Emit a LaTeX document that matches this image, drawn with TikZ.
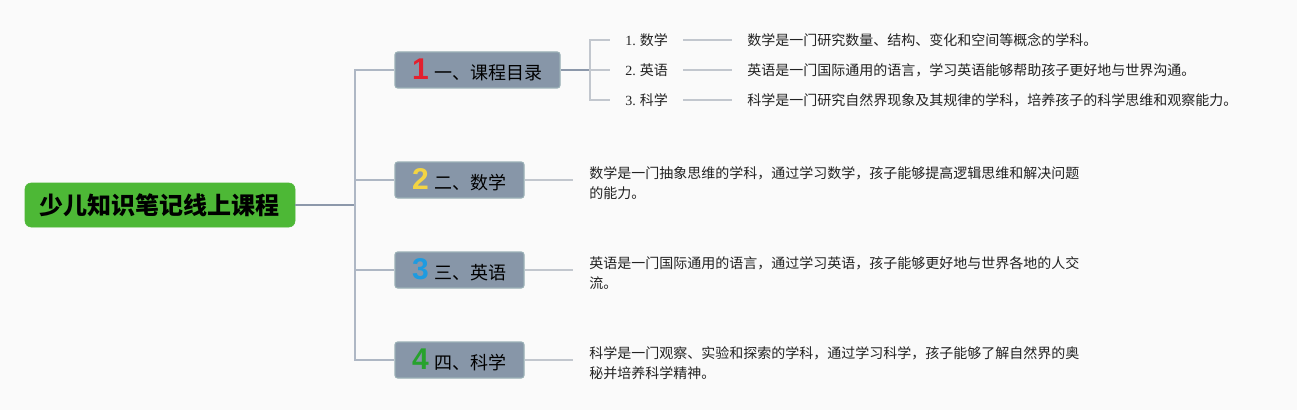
\documentclass[tikz,border=0pt]{standalone}
\usepackage{fontspec}
\setmainfont{Noto Sans CJK SC}
\newfontfamily\serifdig{Liberation Serif}
\newfontfamily\digfont{Liberation Sans}
\definecolor{bgc}{HTML}{FAFAFA}
\definecolor{rootg}{HTML}{4DB836}
\definecolor{boxf}{HTML}{8796A8}
\definecolor{boxd}{HTML}{9AB0B6}
\definecolor{darkl}{HTML}{8C98AA}
\definecolor{lightl}{HTML}{C2C7CE}
\definecolor{trunkl}{HTML}{AEB7C4}
\definecolor{txt}{HTML}{222222}
\definecolor{d1}{HTML}{E3202E}
\definecolor{d2}{HTML}{F3D443}
\definecolor{d3}{HTML}{1E9BE0}
\definecolor{d4}{HTML}{27A22D}
\tikzset{
  rootbox/.style={draw=rootg, fill=rootg, rounded corners=4.5pt, minimum width=202.5pt, minimum height=33pt, inner sep=0pt, font=\fontsize{18pt}{20pt}\selectfont\bfseries, text=black},
  topicbox/.style={draw=boxd, line width=0.8pt, fill=boxf, rounded corners=2pt, minimum height=27pt, inner sep=0pt, font=\fontsize{13.5pt}{15pt}\selectfont, text=black},
  sublabel/.style={anchor=west, inner xsep=11.25pt, inner ysep=0pt, font=\fontsize{10.5pt}{15pt}\selectfont, text=txt},
  desc/.style={anchor=west, inner xsep=11.25pt, inner ysep=0pt, font=\fontsize{10.5pt}{15pt}\selectfont, text=txt},
  longdesc/.style={anchor=west, inner sep=0pt, align=left, font=\fontsize{10.5pt}{15pt}\selectfont, text=txt},
  trunkline/.style={draw=trunkl, line width=1.1pt},
  darkline/.style={draw=darkl, line width=1.1pt},
  lightline/.style={draw=lightl, line width=1.1pt},
}
\newcommand{\bnum}[2]{{\digfont\bfseries\fontsize{22.5pt}{22.5pt}\selectfont\textcolor{#1}{#2}}\hspace{4.5pt}}
\begin{document}
\begin{tikzpicture}[x=0.75pt,y=-0.75pt]
\fill[bgc] (0,0) rectangle (1297,410);
\useasboundingbox (0,0) rectangle (1297,410);

% root
\node[rootbox] (root) at (160,205) {少儿知识笔记线上课程};

% topic boxes
\node[topicbox, minimum width=123.75pt] (b1) at (477.5,70) {\bnum{d1}{1}一、课程目录};
\node[topicbox, minimum width=96.75pt] (b2) at (459.5,180) {\bnum{d2}{2}二、数学};
\node[topicbox, minimum width=96.75pt] (b3) at (459.5,270) {\bnum{d3}{3}三、英语};
\node[topicbox, minimum width=96.75pt] (b4) at (459.5,360) {\bnum{d4}{4}四、科学};

% trunk
\coordinate (t) at (355,205);
\draw[darkline] (root.east) -- (t);
\draw[trunkline] (t) |- (b1.west);
\draw[trunkline] (t) |- (b2.west);
\draw[trunkline] (t) |- (b3.west);
\draw[trunkline] (t) |- (b4.west);

% sub-items of topic 1
\coordinate (br) at (590,70);
\draw[darkline] (b1.east) -- (br);
\node[sublabel] (s1) at (610,40) {{\serifdig 1.} 数学};
\node[sublabel] (s2) at (610,70) {{\serifdig 2.} 英语};
\node[sublabel] (s3) at (610,100) {{\serifdig 3.} 科学};
\draw[lightline] (br) |- (s1.west);
\draw[lightline] (br) -- (s2.west);
\draw[lightline] (br) |- (s3.west);

\node[desc] (t1) at (732,40) {数学是一门研究数量、结构、变化和空间等概念的学科。};
\node[desc] (t2) at (732,70) {英语是一门国际通用的语言，学习英语能够帮助孩子更好地与世界沟通。};
\node[desc] (t3) at (732,100) {科学是一门研究自然界现象及其规律的学科，培养孩子的科学思维和观察能力。};
\draw[lightline] (s1.east) -- (t1.west);
\draw[lightline] (s2.east) -- (t2.west);
\draw[lightline] (s3.east) -- (t3.west);

% descriptions of topics 2-4
\node[longdesc] (e2) at (589,183) {数学是一门抽象思维的学科，通过学习数学，孩子能够提高逻辑思维和解决问题\\的能力。};
\node[longdesc] (e3) at (589,273) {英语是一门国际通用的语言，通过学习英语，孩子能够更好地与世界各地的人交\\流。};
\node[longdesc] (e4) at (589,363) {科学是一门观察、实验和探索的学科，通过学习科学，孩子能够了解自然界的奥\\秘并培养科学精神。};
\coordinate (c2) at (573,180);
\coordinate (c3) at (573,270);
\coordinate (c4) at (573,360);
\draw[lightline] (b2.east) -- (c2);
\draw[lightline] (b3.east) -- (c3);
\draw[lightline] (b4.east) -- (c4);
\end{tikzpicture}
\end{document}
